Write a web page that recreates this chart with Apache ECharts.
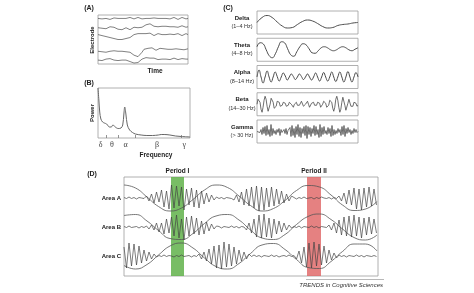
<!DOCTYPE html>
<html><head><meta charset="utf-8">
<script src="https://cdn.jsdelivr.net/npm/echarts@6/dist/echarts.min.js"></script>
<style>html,body{margin:0;padding:0;background:#fff}#c{width:474px;height:293px}</style>
</head><body><div id="c"></div><script>
// ---------- Panel A : raw EEG, five electrodes ----------
const eegE1 = [46.5,47.5,46,47,46.5,47.5,45.5,46.5,47,46,46.5,47.5,46.5,45.5,46.5,47,47.5,46.5,46,46.5,47.5,47,46,46.5,46.5,47.5,46.5,45.5,47,48,46.5,46,46.5,47.5,46.5,47,46,46.5,47.5,46.5,45.5,47,47.5,46.5,46,46.5];
const eegE2 = [37,38,36.5,37.5,36,37,38,36.5,37.5,36,35.5,36.5,35,36,37,36,35,36.5,37.5,36,37,38.5,37.5,39,40,39,41,39.5,38.5,39.5,38,39,38.5,37.5,38.5,39,38,37,38,38.5,37.5,38,39,38,37.5,38];
const eegE3 = [30,31,29,30.5,28,29.5,27,28,26,27,25,26.5,25,27,26,28,27,29,30,29,31,32,31,32.5,31,30,31.5,30,29,30.5,31,29.5,30,31,30,29,30.5,31.5,30,29.5,31,30,29,30.5,31,30];
const eegE4 = [13,14,12.5,13.5,12,14,13,15,13.5,14.5,13,12,13,11.5,12.5,11,12,10.5,9,8,7.5,9,12,15,17,16,15.5,16.5,15,14,15,16,14.5,15.5,14,15,16,15,14,15.5,14.5,15,16,14.5,15,15.5];
const eegE5 = [4,5,3.5,4.5,5,4,5.5,4.5,4,5,3.5,4.5,4,3,4,3.5,2.5,2,1,0.5,1.5,3,5,7,6.5,5.5,6,5,6,5,4.5,5.5,5,4,5,5.5,4.5,5,6,5,4.5,5,5.5,4.5,5,5];

// ---------- Panel B : power spectrum ----------
const specFreq  = [1,1.3,1.6,2.0,2.6,3.2,4,5,5.6,6.2,7,8,9,9.6,10.0,10.3,10.7,11.2,12,13,14,16,18,20,22,23,24,26,28,30,33];
const specPower = [50,38,26,19,16,15,14,11,11,13,11,9.5,10,13,24,31,24,13,8,5.5,4,3,2.5,2.5,3,3.5,3.5,3,2,1.5,1];
const bandEdges = [4,8,14,30];
const bandLabelPos = [1.95,5.8,10.6,21.5,31];
const bandLabels = ['δ','θ','α','β','γ'];

// ---------- Panel C : frequency bands ----------
const bandNames = ['Delta','Theta','Alpha','Beta','Gamma'];
const bandRanges = ['(1–4 Hz)','(4–8 Hz)','(8–14 Hz)','(14–30 Hz)','(> 30 Hz)'];
const waveDelta = [0,5,7,5,0.5,-3.5,-5.5,-5,-2,1,2.5,1.5,-1,-4,-5.5,-5,-3,-2,-1.5,-0.5,0];
const waveTheta = [3,7,6,0,-6,-8,-4,3,8,7,1,-5,-6.5,-2,3,6,5,1,-3,-3.5,-1,2,3,2,0,-1,0,2,3,2,0,-1,0.5,2];
const waveAlpha = [0,7,0,-6,0,6,0,-5,0,5,0.5,-4,0,4,1,-3,0,3,0.5,-2.5,0,3,0.5,-2.5,0,3,0,-3,0,4,0,-4,0,4.5,0,-4,0,5,0,-4.5,0,5,0,-5,0,5.5,0,-5,0,4.5,0];
const waveBeta = [0,5,7,2,-5,-8,-3,4,8,5,-2,-7,-6,0,6,7,2,-4,-6,-2,3,5,2,-2,-4,-1,2,3,1,-2,-3,-1,2,3,0,-2,-3,0,2,2,-1,-3,-1,1,3,1,-2,-2,0,2,3,0,-3,-2,1,3,2,-1,-3,-1,2,4,1,-3,-4,0,3,4,1,-3,-5,-1,4,6,2,-4,-7,-3,5,8,4,-3,-8,-5,2,7,6,-1,-6,-5,1,5,3,-2,-4,-2,2,3,1,-2,-1];
const waveGamma = [0,-2,1,-1,2,-3,4,-2,5,-4,6,-3,2,-5,7,-4,3,-2,1,-3,2,-1,3,-4,2,-1,0,2,-2,3,-3,1,-1,4,-5,6,-4,3,-6,5,-3,7,-5,4,-6,3,-2,5,-4,6,-7,5,-3,4,-5,3,-2,6,-4,5,-3,2,-6,7,-5,4,-3,5,-2,1,-3,4,-2,3,-5,6,-4,2,-3,1,-2,3,-1,2,-4,5,-3,6,-5,3,-2,4,-1,2,-3,1,-2,3,-1,2,-1,0];

// ---------- Panel D : phase-amplitude coupling ----------
const areaNames = ['Area A','Area B','Area C'];
const slowA = [13,10,1,-8.5,-13,-10,-1.5,8,13,10.5,2,-7.5,-13,-10.5,-2.5,7.5,12.5,11,3,-7,-12.5,-11,-3.5];
const slowB = [11.5,12.5,6,-3.5,-11.5,-12.5,-6.5,3.5,11,12.5,7,-3,-11,-12.5,-7.5,2.5,10.5,13,7.5,-2,-10.5,-13,-8];
const slowC = [-9.5,-13,-8.5,1,10,13,8,-2,-10.5,-13,-7.5,2.5,11,12.5,6.5,-3.5,-11.5,-12.5,-5.5,4.5,12,12,5];
const fastA = [0.5,-0.5,1,-0.5,0.5,-1,0.5,0,-0.5,
  2,-3,4,-5,6,-4,8,-9,7,-11,13,-10,12,-8,11,-12,9,-7,10,-9,8,-10,7,-6,5,-4,3,-2,
  1,-0.5,0.5,-1,0.5,0,-0.5,
  -2,3,-4,6,-7,9,-8,11,-10,12,-13,11,-12,10,-9,11,-8,9,-6,7,-5,4,-3,2,
  0.5,-1,0.5,-0.5,1,-0.5,0,0.5,-1,0.5,-0.5,1,0,-0.5,0.5,-1,0.5,-0.5,
  2,-3,5,-6,8,-7,10,-11,9,-12,10,-9,11,-8,9,-7];
const fastB = [0.5,-0.5,1,-0.5,0,0.5,-1,0.5,-0.5,1,
  -2,2,-3,4,-5,4,-7,8,-6,10,-9,12,-11,8,-13,10,-9,11,-7,9,-8,6,-7,5,-4,3,-2,1,
  0.5,-1,0.5,0,-0.5,1,-0.5,0.5,-1,0.5,0,
  -3,4,-6,8,-10,12,-11,13,-10,9,-11,8,-7,6,-5,4,-3,2,-1,
  0.5,-0.5,1,-1,0.5,0,-0.5,1,-0.5,0.5,-1,0.5,0,-0.5,
  2,-3,4,-6,7,-8,10,-9,11,-10,12,-9,10,-11,9,-8,10,-7,8,-6];
const fastC = [9,-12,13,-10,12,-9,10,-7,6,-5,4,-3,2,
  -1,0.5,-0.5,1,-0.5,0.5,0,-1,0.5,-0.5,1,-0.5,0,0.5,-1,0.5,-0.5,
  2,-3,4,-5,7,-8,10,-12,11,-13,14,-11,12,-10,9,-8,6,-5,4,-3,2,
  -0.5,1,-0.5,0.5,-1,0.5,0,-0.5,1,-0.5,0.5,-1,0,0.5,-0.5,1,-0.5,0.5,
  -3,5,-7,9,-11,13,-12,14,-10,12,-9,10,-7,6,-4,3,-2,
  1,-0.5,0.5,-1,0.5,0,-0.5,1,-0.5,0.5,-1,0.5,0,-0.5,0.5,-0.5];
const periodNames = ['Period I','Period II'];
const periodFrom = [47,183];
const periodTo = [60,197];

// ---------- layout / style ----------
const INK = '#4a4a4a', BOX = '#9c9c9c';
const FONT = '"Liberation Sans", Arial, sans-serif';
const dt = 2.5, dtSlow = 11.5;
const span = (arr, w) => arr.map((v, i) => [i * w / (arr.length - 1), v]);
const step = (arr, s, off) => arr.map((v, i) => [i * s, v + off]);

const grids = [], xAxes = [], yAxes = [], series = [];
function addGrid(g, x, y) {
  grids.push(Object.assign({show: true, borderColor: BOX, borderWidth: 0.8, backgroundColor: 'transparent', containLabel: false, outerBoundsMode: 'none'}, g));
  const idx = grids.length - 1;
  xAxes.push(Object.assign({type: 'value', gridIndex: idx, show: false, splitLine: {show: false}}, x));
  yAxes.push(Object.assign({type: 'value', gridIndex: idx, show: false, splitLine: {show: false}}, y));
  return idx;
}
function line(idx, data, smooth, extra) {
  series.push(Object.assign({type: 'line', xAxisIndex: idx, yAxisIndex: idx, data, symbol: 'none', smooth: smooth || false,
    lineStyle: {color: INK, width: 0.8}, z: 3, animation: false, silent: true}, extra || {}));
}

// A
const gA = addGrid({left: 98, top: 15, width: 90, height: 49}, {min: 0, max: 90}, {min: 0, max: 50});
[eegE1, eegE2, eegE3, eegE4, eegE5].forEach(t => line(gA, span(t, 90), false, {lineStyle: {color: INK, width: 0.7}}));

// B
const gB = addGrid({left: 98, top: 88, width: 92, height: 50},
  {min: 1, max: 33, show: true, axisLine: {show: false},
   axisTick: {show: true, customValues: bandEdges, length: 3, inside: true, lineStyle: {color: '#777', width: 0.8}},
   axisLabel: {show: true, customValues: bandLabelPos, margin: 3, color: '#444', fontSize: 8, fontFamily: '"Liberation Serif", serif',
     formatter: v => bandLabels[bandLabelPos.indexOf(v)] || ''}},
  {min: 0, max: 50});
line(gB, specFreq.map((f, i) => [f, specPower[i]]), 0.35, {lineStyle: {color: '#666', width: 1}});

// C
const cTops = [11, 38.25, 65.5, 92.75, 120];
const cWaves = [waveDelta, waveTheta, waveAlpha, waveBeta, waveGamma];
const cSmooth = [true, true, true, false, false];
cWaves.forEach((w, k) => {
  const g = addGrid({left: 257, top: cTops[k], width: 101, height: 23}, {min: 0, max: 100}, {min: -11.5, max: 11.5});
  line(g, span(w, 100), cSmooth[k], {lineStyle: {color: INK, width: k < 3 ? 1 : 0.8}});
});

// D
const gD = addGrid({left: 124, top: 177, width: 254, height: 99}, {min: 0, max: 254}, {min: 0, max: 99});
const rowCenter = [78, 49, 20];
[[slowA, fastA], [slowB, fastB], [slowC, fastC]].forEach((p, k) => {
  line(gD, step(p[0], dtSlow, rowCenter[k]), true, {lineStyle: {color: '#555', width: 0.8}});
  line(gD, step(p[1], dt, rowCenter[k]), false, {lineStyle: {color: '#444', width: 0.7}});
});
const bandColors = ['rgba(96,178,74,0.85)', 'rgba(222,98,98,0.8)'];
series.push({type: 'line', xAxisIndex: gD, yAxisIndex: gD, data: [], z: 1, silent: true, animation: false,
  markArea: {silent: true,
    label: {show: true, position: 'top', distance: 2, color: '#222', fontSize: 6.5, fontWeight: 'bold', fontFamily: FONT},
    data: periodNames.map((n, i) => [{name: n, xAxis: periodFrom[i], itemStyle: {color: bandColors[i]}}, {xAxis: periodTo[i]}])}});

// texts
const graphic = [];
function T(text, x, y, o) {
  o = o || {};
  graphic.push({type: 'text', x, y, rotation: o.rot || 0, silent: true, z: 10,
    style: {text, fill: o.color || '#222', font: (o.weight || 'bold') + ' ' + (o.size || 6.5) + 'px ' + FONT,
      align: o.align || 'center', verticalAlign: 'middle'}});
}
T('(A)', 89, 8, {size: 7});
T('Electrode', 92, 40, {rot: Math.PI / 2, size: 6});
T('Time', 155, 71, {size: 6.5});
T('(B)', 89, 83, {size: 7});
T('Power', 92, 113, {rot: Math.PI / 2, size: 6});
T('Frequency', 156, 155, {size: 6.5});
T('(C)', 228, 8, {size: 7});
bandNames.forEach((n, k) => {
  const c = cTops[k] + 11.5;
  T(n, 242, c - 4.5, {size: 6});
  T(bandRanges[k], 242, c + 4, {size: 5.5, weight: 'normal', color: '#333'});
});
T('(D)', 92, 174, {size: 7});
areaNames.forEach((n, k) => T(n, 121, 276 - rowCenter[k], {size: 6, align: 'right'}));
T('TRENDS in Cognitive Sciences', 383, 285, {size: 6, align: 'right', weight: 'italic', color: '#333'});
graphic.push({type: 'line', silent: true, shape: {x1: 306, y1: 279.5, x2: 384, y2: 279.5}, style: {stroke: '#888', lineWidth: 0.6}});

const chart = echarts.init(document.getElementById('c'), null, {renderer: 'canvas'});
chart.setOption({animation: false, grid: grids, xAxis: xAxes, yAxis: yAxes, series, graphic});
</script></body></html>
